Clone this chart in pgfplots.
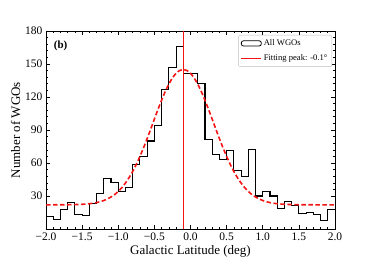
\documentclass[border=0pt]{standalone}
\usepackage{fontspec}
\setmainfont{Liberation Serif}
\usepackage{pgfplots}
\pgfplotsset{compat=1.18}
\definecolor{fitred}{RGB}{245,20,20}
\begin{document}
\begin{tikzpicture}
\path[use as bounding box] (-46pt,-33pt) rectangle (328pt,229pt);
\begin{axis}[
  at={(0,0)}, anchor=south west,
  width=289pt, height=198pt, scale only axis,
  xmin=-2, xmax=2, ymin=0, ymax=180,
  xtick={-2,-1.5,-1,-0.5,0,0.5,1,1.5,2},
  xticklabels={−2.0,−1.5,−1.0,−0.5,0.0,0.5,1.0,1.5,2.0},
  ytick={30,60,90,120,150,180},
  minor x tick num=4, minor y tick num=4,
  tick align=inside,
  major tick length=4pt, minor tick length=2pt,
  every tick/.style={black, line width=0.6pt},
  axis line style={line width=0.8pt},
  /pgf/number format/assume math mode=true,
  tick label style={font=\fontsize{11.5}{13}\selectfont},
  xlabel={Galactic Latitude (deg)},
  ylabel={Number of WGOs},
  label style={font=\fontsize{13}{15}\selectfont},
  xlabel style={yshift=2pt},
  ylabel style={yshift=-2pt},
  legend style={at={(0.99,0.98)}, anchor=north east, draw=black!25, rounded corners=2pt,
    font=\fontsize{8.6}{10}\selectfont, inner sep=2.5pt, row sep=3.5pt},
  legend cell align=left,
]
\addplot[const plot mark left, black, line width=1.1pt,
  legend image code/.code={\draw[black, line width=0.8pt] (0cm,-0.09cm) rectangle (0.7cm,0.09cm);}]
coordinates {
(-2.0,11) (-1.9,9) (-1.8,18) (-1.7,24) (-1.6,13) (-1.5,12) (-1.4,23) (-1.3,32)
(-1.2,46) (-1.1,42) (-1.0,34) (-0.9,38) (-0.8,59) (-0.7,66) (-0.6,80) (-0.5,94)
(-0.4,127) (-0.3,147) (-0.2,166) (-0.1,141) (0.0,141) (0.1,132) (0.2,81) (0.3,68)
(0.4,63) (0.5,71) (0.6,53) (0.7,48) (0.8,72) (0.9,30) (1.0,34) (1.1,30)
(1.2,19) (1.3,25) (1.4,21) (1.5,14) (1.6,15) (1.7,13) (1.8,8) (1.9,18) (2.0,18)
};
\addlegendentry{All WGOs}
\addplot[fitred, line width=1.5pt, mark=none,
  legend image code/.code={\draw[fitred, line width=1pt] (0cm,0cm) -- (0.7cm,0cm);}]
  coordinates {(-0.1,0) (-0.1,180)};
\addlegendentry{Fitting peak: -0.1°}
\addplot[fitred, line width=1.6pt, dash pattern=on 4.5pt off 2.5pt, smooth, forget plot] coordinates {
(-2.0,22.0) (-1.9,22.0) (-1.8,22.03) (-1.7,22.08) (-1.6,22.2) (-1.5,22.46) (-1.4,22.98)
(-1.3,24.0) (-1.2,25.9) (-1.1,29.1) (-1.05,31.3) (-1.0,34.2) (-0.95,37.6) (-0.9,41.8)
(-0.85,46.7) (-0.8,52.3) (-0.75,58.8) (-0.7,66.0) (-0.65,73.8) (-0.6,82.2) (-0.55,91.0)
(-0.5,99.9) (-0.45,108.7) (-0.4,117.1) (-0.35,124.9) (-0.3,131.7) (-0.25,137.3)
(-0.2,141.5) (-0.15,144.1) (-0.1,145) (-0.05,144.1) (0.0,141.5) (0.05,137.3) (0.1,131.7)
(0.15,124.9) (0.2,117.1) (0.25,108.7) (0.3,99.9) (0.35,91.0) (0.4,82.2) (0.45,73.8)
(0.5,66.0) (0.55,58.8) (0.6,52.3) (0.65,46.7) (0.7,41.8) (0.75,37.6) (0.8,34.2)
(0.85,31.3) (0.9,29.1) (1.0,25.9) (1.1,24.0) (1.2,23.0) (1.3,22.46) (1.4,22.2)
(1.5,22.08) (1.6,22.03) (1.7,22.0) (1.8,22.0) (1.9,22.0) (2.0,22.0)
};
\node[anchor=north west, font=\bfseries\fontsize{11}{13}\selectfont] at (rel axis cs:0.015,0.97) {(b)};
\end{axis}
\end{tikzpicture}
\end{document}
